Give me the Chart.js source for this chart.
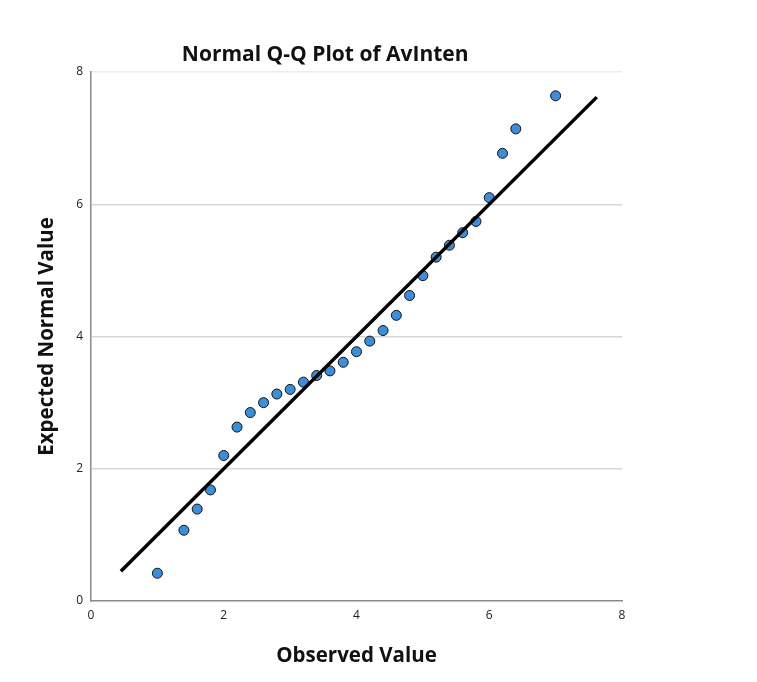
<!DOCTYPE html>
<html>
<head>
<meta charset="utf-8">
<script src="https://cdn.jsdelivr.net/npm/chart.js@4.4.1/dist/chart.umd.min.js"></script>
<style>
html,body{margin:0;padding:0;background:#fff;}
#wrap{width:757px;height:682px;position:relative;}
</style>
</head>
<body>
<div id="wrap"><canvas id="c" width="757" height="682"></canvas></div>
<script>
const chartTitle = "Normal Q-Q Plot of AvInten";
const xAxisTitle = "Observed Value";
const yAxisTitle = "Expected Normal Value";
const xTicks = [0, 2, 4, 6, 8];
const yTicks = [0, 2, 4, 6, 8];
const observed = [1.0, 1.4, 1.6, 1.8, 2.0, 2.2, 2.4, 2.6, 2.8, 3.0, 3.2, 3.4, 3.6, 3.8, 4.0, 4.2, 4.4, 4.6, 4.8, 5.0, 5.2, 5.4, 5.6, 5.8, 6.0, 6.2, 6.4, 7.0];
const expected = [0.42, 1.07, 1.39, 1.68, 2.20, 2.63, 2.85, 3.00, 3.13, 3.20, 3.31, 3.41, 3.48, 3.61, 3.77, 3.93, 4.09, 4.32, 4.62, 4.92, 5.20, 5.38, 5.57, 5.74, 6.10, 6.77, 7.14, 7.64];
const refLineX = [0.45, 7.62];
const refLineY = [0.45, 7.62];

const FONT = "'Open Sans', Lato, sans-serif";

const titlePlugin = {
  id: 'qqTitle',
  afterDraw(chart) {
    const ctx = chart.ctx;
    const a = chart.chartArea;
    ctx.save();
    ctx.font = "bold 21px " + FONT;
    ctx.fillStyle = '#111';
    ctx.textAlign = 'center';
    ctx.textBaseline = 'middle';
    ctx.fillText(chartTitle, a.left + (a.right - a.left) * 0.441, a.top - 17);
    ctx.restore();
  }
};

new Chart(document.getElementById('c'), {
  type: 'scatter',
  data: {
    datasets: [
      {
        type: 'line',
        data: refLineX.map((x, i) => ({x: x, y: refLineY[i]})),
        borderColor: '#000',
        borderWidth: 3.5,
        pointRadius: 0,
        fill: false,
        order: 0
      },
      {
        type: 'scatter',
        data: observed.map((x, i) => ({x: x, y: expected[i]})),
        backgroundColor: '#3a8edc',
        borderColor: '#111',
        borderWidth: 1,
        pointRadius: 5,
        order: 1
      }
    ]
  },
  plugins: [titlePlugin],
  options: {
    responsive: false,
    animation: false,
    devicePixelRatio: 1,
    layout: { padding: { top: 72, right: 135, bottom: 0, left: 0 } },
    plugins: { legend: { display: false }, tooltip: { enabled: false }, title: { display: false } },
    scales: {
      x: {
        type: 'linear',
        min: 0, max: 8,
        afterBuildTicks(s) { s.ticks = xTicks.map(v => ({value: v})); },
        afterFit(s) { s.height = 81; },
        grid: { display: false, drawTicks: false },
        border: { display: true, color: '#8a8a8a', width: 1.5 },
        ticks: { padding: 7, color: '#222', font: { family: FONT, size: 12 } },
        title: { display: true, text: xAxisTitle, color: '#111', font: { family: FONT, size: 20.5, weight: 'bold' }, padding: { top: 0, bottom: 14 } }
      },
      y: {
        type: 'linear',
        min: 0, max: 8,
        afterBuildTicks(s) { s.ticks = yTicks.map(v => ({value: v})); },
        afterFit(s) { s.width = 91; },
        grid: {
          drawTicks: false,
          color: (c) => (c.tick && c.tick.value === 8) ? '#ececec' : (c.tick && c.tick.value === 0 ? 'rgba(0,0,0,0)' : '#d6d6d6'),
          lineWidth: 1.5
        },
        border: { display: true, color: '#8a8a8a', width: 1.5 },
        ticks: { padding: 8, color: '#222', font: { family: FONT, size: 12 } },
        title: { display: true, text: yAxisTitle, color: '#111', font: { family: FONT, size: 20.5, weight: 'bold' }, padding: { top: 35, bottom: 0 } }
      }
    }
  }
});
</script>
</body>
</html>
